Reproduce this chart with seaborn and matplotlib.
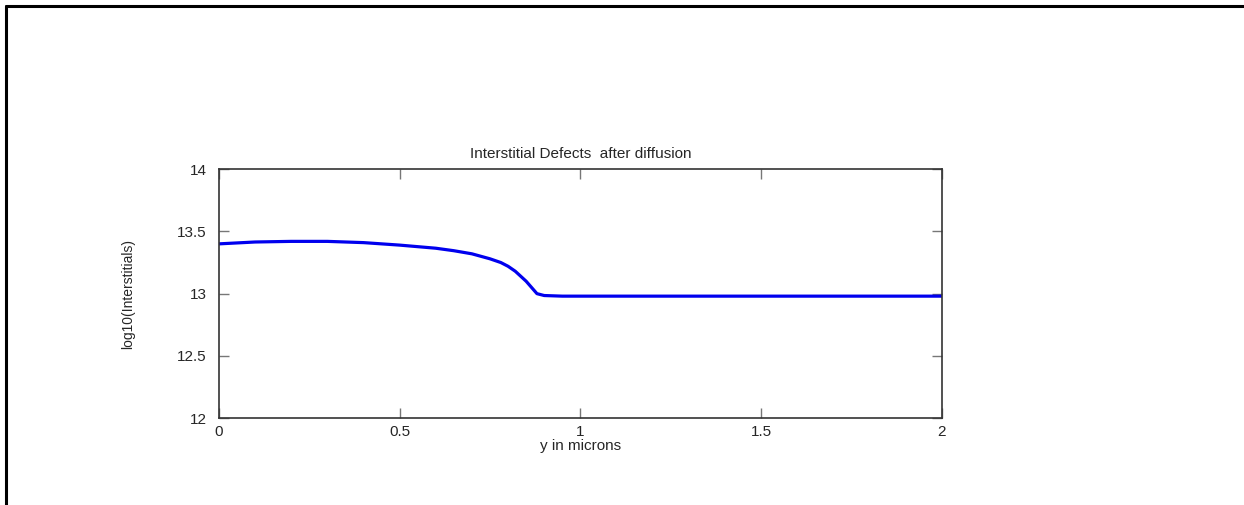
import matplotlib
matplotlib.use("Agg")
import matplotlib.pyplot as plt
import seaborn as sns
import pandas as pd
from matplotlib.lines import Line2D

# profile
y_microns = [0.0, 0.1, 0.2, 0.3, 0.4, 0.5, 0.6, 0.65, 0.7, 0.75, 0.78, 0.8, 0.82, 0.85, 0.865, 0.88,
             0.9, 0.95, 1.0, 1.5, 2.0]
log_interstitials = [13.40, 13.415, 13.42, 13.42, 13.41, 13.39, 13.365, 13.345, 13.32, 13.28, 13.25,
                     13.22, 13.18, 13.10, 13.05, 13.00, 12.985, 12.98, 12.98, 12.98, 12.98]
x_ticks = [0, 0.5, 1, 1.5, 2]
x_tick_labels = ['0', '0.5', '1', '1.5', '2']
y_ticks = [12, 12.5, 13, 13.5, 14]
y_tick_labels = ['12', '12.5', '13', '13.5', '14']

sns.set_style("white")
plt.rcParams['font.family'] = ['Liberation Sans', 'DejaVu Sans']

df = pd.DataFrame({'y': y_microns, 'logI': log_interstitials})

fig = plt.figure(figsize=(12.44, 5.05), dpi=100)
ax = fig.add_axes([0.176, 0.172, 0.581, 0.493])

sns.lineplot(data=df, x='y', y='logI', ax=ax, color='#0000ee', linewidth=2.3)

ax.set_xlim(0, 2)
ax.set_ylim(12, 14)
ax.set_xticks(x_ticks)
ax.set_xticklabels(x_tick_labels, fontsize=11)
ax.set_yticks(y_ticks)
ax.set_yticklabels(y_tick_labels, fontsize=11)
ax.tick_params(direction='in', length=7, width=1, color='#777777', top=True, right=True,
               bottom=True, left=True)
ax.tick_params(axis='y', pad=9)
ax.tick_params(axis='x', pad=5)
for s in ax.spines.values():
    s.set_visible(True)
    s.set_color('#333333')
    s.set_linewidth(1.2)

ax.set_title('Interstitial Defects  after diffusion', fontsize=11, pad=8)
ax.set_xlabel('y in microns', fontsize=11, labelpad=0)
ax.set_ylabel('log10(Interstitials)', fontsize=10, labelpad=30)

# outer frame lines (top and left)
fig.add_artist(Line2D([0.0048, 1.0], [0.988, 0.988], transform=fig.transFigure, color='black', linewidth=2.2))
fig.add_artist(Line2D([0.0048, 0.0048], [0.0, 0.988], transform=fig.transFigure, color='black', linewidth=2.2))

fig.savefig('out.png', dpi=100)
